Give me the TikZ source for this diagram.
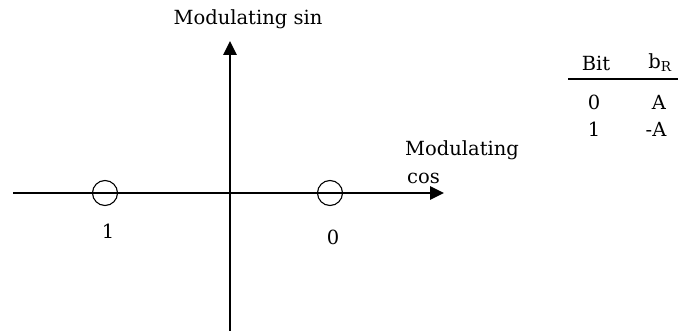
\documentclass[tikz,border=0pt]{standalone}
\usepackage{fontspec}
\setmainfont{DejaVu Serif}
\usetikzlibrary{arrows.meta}

\begin{document}
\begin{tikzpicture}[x=1pt,y=-1pt,
  axis/.style={line width=2.8pt,-{Triangle[length=14pt,width=13pt]}},
  pt/.style={draw, circle, minimum size=25pt, inner sep=0pt, line width=1.1pt},
  txt/.style={font=\fontsize{19.5}{23}\selectfont, inner sep=0pt}]
\useasboundingbox (0,0) rectangle (678,331);
% axes
\coordinate (W) at (13,193);
\coordinate (E) at (444,193);
\coordinate (S) at (230,331);
\coordinate (N) at (230,41);
\draw[axis] (W) -- (E);
\draw[axis] (S) -- (N);
% constellation points
\node[pt] (p1) at (105,193) {};
\node[pt] (p0) at (330,193) {};
\node[txt] (l1) at (108,231) {1};
\node[txt] (l0) at (333,237) {0};
% axis labels
\node[txt] (lsin) at (248,19) {Modulating sin};
\node[txt, anchor=base west] (lmod) at (405,156) {Modulating};
\node[txt, anchor=base west] (lcos) at (407,184) {cos};
% table
\node[txt] (hbit) at (596,63) {Bit};
\node[txt] (hb) at (660,63) {b\textsubscript{R}};
\coordinate (ra) at (568,79);
\coordinate (rb) at (678,79);
\draw[line width=1.6pt] (ra) -- (rb);
\node[txt] (b0) at (594,102) {0};
\node[txt] (a0) at (659,102) {A};
\node[txt] (b1) at (594,129) {1};
\node[txt] (a1) at (656,129) {-A};
\end{tikzpicture}
\end{document}
